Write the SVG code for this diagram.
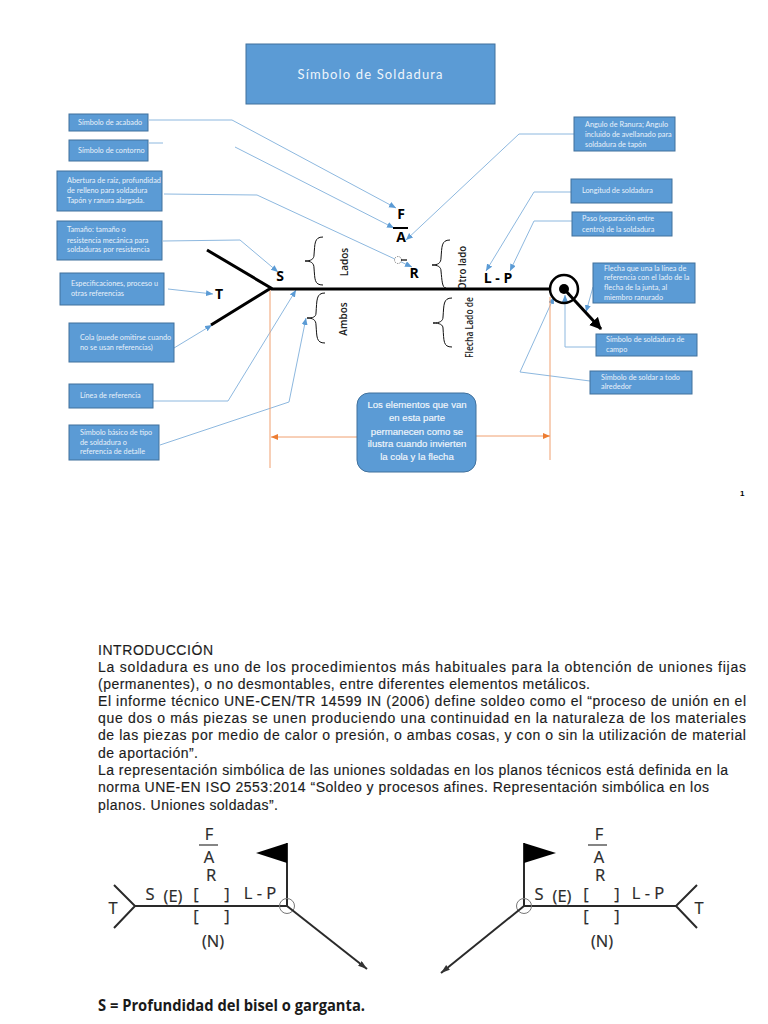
<svg xmlns="http://www.w3.org/2000/svg" width="768" height="1024" viewBox="0 0 768 1024">
<style>
text{font-family:"Liberation Sans",Arial,sans-serif}
.box{fill:#5b9bd5;stroke:#41719c;stroke-width:1}
.lb{font-family:Lato,"Open Sans",sans-serif;font-size:7.3px;fill:#e8f1fa}
.c{fill:none;stroke:#8db8df;stroke-width:1}
.o{fill:none;stroke:#f0a070;stroke-width:1}
.k{fill:none;stroke:#000;stroke-width:3}
.b{fill:none;stroke:#111;stroke-width:1}
.sym{font-family:"Open Sans","Liberation Sans",sans-serif;font-size:14px;font-weight:700;fill:#000}
.rot{font-family:"Open Sans","Liberation Sans",sans-serif;font-size:10px;font-weight:600;fill:#222}
.p{font-size:14px;fill:#1c1c1c;stroke:#1c1c1c;stroke-width:.15}
.w{font-family:"Open Sans","Liberation Sans",sans-serif;font-size:16.5px;fill:#2a2a2a;stroke:#2a2a2a;stroke-width:.2}
.ln{stroke:#2a2a2a;fill:none;stroke-width:2}
</style>
<defs>
<marker id="ab" markerWidth="8" markerHeight="7" refX="7" refY="3" orient="auto" markerUnits="userSpaceOnUse"><path d="M0 0L7 3L0 6z" fill="#5b9bd5"/></marker>
<marker id="ao" markerWidth="8" markerHeight="7" refX="7" refY="3" orient="auto" markerUnits="userSpaceOnUse"><path d="M0 0L7 3L0 6z" fill="#ed7d31"/></marker>
<marker id="ak" markerWidth="14" markerHeight="14" refX="11" refY="6" orient="auto" markerUnits="userSpaceOnUse"><path d="M0 0L12 6L0 12z" fill="#000"/></marker>
<marker id="as" markerWidth="10" markerHeight="8" refX="9" refY="3" orient="auto" markerUnits="userSpaceOnUse"><path d="M0 0L9 3L0 6z" fill="#333"/></marker>
<clipPath id="c1"><rect x="450" y="230" width="30" height="58"/></clipPath>
<clipPath id="c2"><rect x="455" y="296" width="30" height="61"/></clipPath>
</defs>
<rect width="768" height="1024" fill="#fff"/>
<g id="connectors">
<path class="c" marker-end="url(#ab)" d="M149 120H232L396 208"/>
<path class="c" d="M149 143H163"/>
<path class="c" marker-end="url(#ab)" d="M235 147L394 228"/>
<path class="c" marker-end="url(#ab)" d="M164 194L257 195L412 267"/>
<path class="c" marker-end="url(#ab)" d="M163 241L240 240L278 272"/>
<path class="c" marker-end="url(#ab)" d="M168 289L213 294"/>
<path class="c" marker-end="url(#ab)" d="M174 348L212 325"/>
<path class="c" marker-end="url(#ab)" d="M153 401H228L296 290"/>
<path class="c" marker-end="url(#ab)" d="M160 445L289 402L306 318"/>
<path class="c" marker-end="url(#ab)" d="M574 134H519L406 240"/>
<path class="c" marker-end="url(#ab)" d="M571 192H534L486 271"/>
<path class="c" marker-end="url(#ab)" d="M572 221H534L510 271"/>
<path class="c" marker-end="url(#ab)" d="M593 287L586 312"/>
<path class="c" marker-end="url(#ab)" d="M596 347H565V295"/>
<path class="c" marker-end="url(#ab)" d="M590 381L520 372L554 297"/>
<path class="o" d="M270 288V468M550 297V460"/>
<path class="o" marker-end="url(#ao)" d="M357 437H271"/>
<path class="o" marker-end="url(#ao)" d="M476 436H550"/>
</g>
<g id="title"><rect class="box" x="246" y="44" width="249" height="60"/><text x="370" y="79" text-anchor="middle" textLength="145" style="font-family:Lato,'Open Sans',sans-serif;font-size:13px;fill:#eef5fb">Símbolo de Soldadura</text></g>
<g id="n-acabado"><rect class="box" x="69" y="114" width="79" height="17"/><text class="lb" x="78" y="125">Símbolo de acabado</text></g>
<g id="n-contorno"><rect class="box" x="69" y="140" width="79" height="21"/><text class="lb" x="78" y="153">Símbolo de contorno</text></g>
<g id="n-abertura"><rect class="box" x="57" y="171" width="105" height="40"/><text class="lb" x="67" y="183">Abertura de raíz, profundidad</text><text class="lb" x="67" y="193">de relleno para soldadura</text><text class="lb" x="67" y="203">Tapón y ranura alargada.</text></g>
<g id="n-tamano"><rect class="box" x="57" y="221" width="105" height="39"/><text class="lb" x="67" y="232">Tamaño: tamaño o</text><text class="lb" x="67" y="243">resistencia mecánica para</text><text class="lb" x="67" y="252">soldaduras por resistencia</text></g>
<g id="n-espec"><rect class="box" x="60" y="273" width="104" height="32"/><text class="lb" x="71" y="286">Especificaciones, proceso u</text><text class="lb" x="71" y="296">otras referencias</text></g>
<g id="n-cola"><rect class="box" x="69" y="323" width="105" height="39"/><text class="lb" x="80" y="340">Cola (puede omitirse cuando</text><text class="lb" x="80" y="350">no se usan referencias)</text></g>
<g id="n-linea"><rect class="box" x="69" y="384" width="84" height="24"/><text class="lb" x="80" y="398">Línea de referencia</text></g>
<g id="n-basico"><rect class="box" x="69" y="425" width="90" height="35"/><text class="lb" x="80" y="435">Símbolo básico de tipo</text><text class="lb" x="80" y="445">de soldadura o</text><text class="lb" x="80" y="454">referencia de detalle</text></g>
<g id="n-angulo"><rect class="box" x="574" y="117" width="101" height="34"/><text class="lb" x="585" y="127">Angulo de Ranura; Angulo</text><text class="lb" x="585" y="137">incluido de avellanado para</text><text class="lb" x="585" y="147">soldadura de tapón</text></g>
<g id="n-longitud"><rect class="box" x="571" y="179" width="101" height="24"/><text class="lb" x="582" y="193">Longitud de soldadura</text></g>
<g id="n-paso"><rect class="box" x="572" y="212" width="100" height="24"/><text class="lb" x="582" y="221">Paso (separación entre</text><text class="lb" x="582" y="232">centro) de la soldadura</text></g>
<g id="n-flecha"><rect class="box" x="593" y="263" width="102" height="40"/><text class="lb" x="604" y="271">Flecha que una la línea de</text><text class="lb" x="604" y="280">referencia con el lado de la</text><text class="lb" x="604" y="290">flecha de la junta, al</text><text class="lb" x="604" y="300">miembro ranurado</text></g>
<g id="n-campo"><rect class="box" x="596" y="334" width="101" height="22"/><text class="lb" x="606" y="342">Símbolo de soldadura de</text><text class="lb" x="606" y="352">campo</text></g>
<g id="n-todo"><rect class="box" x="590" y="371" width="102" height="23"/><text class="lb" x="601" y="380">Símbolo de soldar a todo</text><text class="lb" x="601" y="389">alrededor</text></g>
<g id="n-centro"><rect class="box" x="357" y="393" width="119" height="79" rx="12"/>
<g text-anchor="middle" style="font-family:Lato,'Open Sans',sans-serif;font-size:9.6px;fill:#f2f7fc;stroke:#f2f7fc;stroke-width:.15"><text x="417" y="408">Los elementos que van</text><text x="417" y="421">en esta parte</text><text x="417" y="435">permanecen como se</text><text x="417" y="447">ilustra cuando invierten</text><text x="417" y="460">la cola y la flecha</text></g></g>
<g id="symbol">
<path class="k" d="M207 250L271 288L211 325M271 289H550"/>
<circle cx="564" cy="289" r="14" fill="none" stroke="#000" stroke-width="2.5"/><circle cx="564" cy="289" r="5" fill="#000"/>
<path d="M564 289L601 329" stroke="#000" stroke-width="3" fill="none" marker-end="url(#ak)"/>
<path stroke="#000" stroke-width="2" d="M393 228H408"/>
<circle cx="398" cy="260" r="3.5" fill="#fff" stroke="#555" stroke-width=".7" stroke-dasharray="1.5 1"/><path stroke="#000" stroke-width="1.2" d="M401 260H407"/>
<path class="b" d="M323 237C314 237 315 244 314 255C314 259 311 261 305 261C311 261 314 263 314 268C315 279 314 285 323 285"/>
<path class="b" d="M325 293C316 293 317 300 316 313C316 317 313 318 307 318C313 318 316 320 316 325C317 337 316 343 325 343"/>
<path class="b" d="M450 240C441 240 442 247 441 258C441 263 438 265 432 265C438 265 441 267 441 271C442 280 442 288 446 288"/>
<path class="b" d="M452 298C443 298 444 305 443 317C443 321 440 323 433 323C440 323 443 325 443 328C444 341 443 347 452 347"/>
<text class="sym" x="401" y="219" text-anchor="middle">F</text><text class="sym" x="401" y="242" text-anchor="middle">A</text><text class="sym" x="280" y="281" text-anchor="middle">S</text><text class="sym" x="219" y="299" text-anchor="middle">T</text><text class="sym" x="414" y="278" text-anchor="middle">R</text><text class="sym" x="498" y="283" text-anchor="middle">L - P</text>
<text class="rot" transform="translate(348 262) rotate(-90)" text-anchor="middle">Lados</text>
<text class="rot" transform="translate(347 319) rotate(-90)" text-anchor="middle">Ambos</text>
<g clip-path="url(#c1)"><text class="rot" transform="translate(466 290) rotate(-90)" textLength="44" lengthAdjust="spacingAndGlyphs">Otro lado</text></g>
<g clip-path="url(#c2)"><text class="rot" transform="translate(473 358) rotate(-90)" textLength="61" lengthAdjust="spacingAndGlyphs">Flecha Lado de</text></g>
</g>
<text x="740" y="496" style="font-size:8px;font-weight:700">1</text>
<g id="intro">
<text class="p" x="98" y="655" textLength="115" lengthAdjust="spacing">INTRODUCCIÓN</text>
<text class="p" x="98" y="672" textLength="648" lengthAdjust="spacing">La soldadura es uno de los procedimientos más habituales para la obtención de uniones fijas</text>
<text class="p" x="98" y="689" textLength="492" lengthAdjust="spacing">(permanentes), o no desmontables, entre diferentes elementos metálicos.</text>
<text class="p" x="98" y="706" textLength="648" lengthAdjust="spacing">El informe técnico UNE-CEN/TR 14599 IN (2006) define soldeo como el “proceso de unión en el</text>
<text class="p" x="98" y="723" textLength="648" lengthAdjust="spacing">que dos o más piezas se unen produciendo una continuidad en la naturaleza de los materiales</text>
<text class="p" x="98" y="740" textLength="648" lengthAdjust="spacing">de las piezas por medio de calor o presión, o ambas cosas, y con o sin la utilización de material</text>
<text class="p" x="98" y="758" textLength="100" lengthAdjust="spacing">de aportación”.</text>
<text class="p" x="98" y="775" textLength="630" lengthAdjust="spacing">La representación simbólica de las uniones soldadas en los planos técnicos está definida en la</text>
<text class="p" x="98" y="792" textLength="611" lengthAdjust="spacing">norma UNE-EN ISO 2553:2014 “Soldeo y procesos afines. Representación simbólica en los</text>
<text class="p" x="98" y="810" textLength="180" lengthAdjust="spacing">planos. Uniones soldadas”.</text>
</g>
<g id="weld-left">
<path class="ln" d="M114 885L135 906L114 928M135 906H287V843"/>
<path d="M287 843L256 853L287 863z" fill="#000"/>
<circle cx="287" cy="906" r="7.5" fill="none" stroke="#777" stroke-width="1"/>
<path class="ln" marker-end="url(#as)" d="M287 906L367 969"/>
<path stroke="#333" stroke-width="1.2" d="M199 845H218"/>
<text class="w" x="209" y="840" text-anchor="middle">F</text><text class="w" x="209" y="863" text-anchor="middle">A</text><text class="w" x="211" y="881" text-anchor="middle">R</text><text class="w" x="150" y="900" text-anchor="middle">S</text><text class="w" x="173" y="902" text-anchor="middle">(E)</text><text class="w" x="196" y="900" text-anchor="middle">[</text><text class="w" x="227" y="900" text-anchor="middle">]</text><text class="w" x="260" y="899" text-anchor="middle">L - P</text><text class="w" x="196" y="922" text-anchor="middle">[</text><text class="w" x="227" y="922" text-anchor="middle">]</text><text class="w" x="213" y="947" text-anchor="middle">(N)</text><text class="w" x="113" y="914" text-anchor="middle">T</text>
</g>
<g id="weld-right">
<path class="ln" d="M697 885L676 906L697 928M676 906H524V843"/>
<path d="M524 843L556 853L524 863z" fill="#000"/>
<circle cx="524" cy="906" r="7.5" fill="none" stroke="#777" stroke-width="1"/>
<path class="ln" marker-end="url(#as)" d="M524 906L441 973"/>
<path stroke="#333" stroke-width="1.2" d="M588 845H607"/>
<text class="w" x="599" y="840" text-anchor="middle">F</text><text class="w" x="599" y="863" text-anchor="middle">A</text><text class="w" x="600" y="881" text-anchor="middle">R</text><text class="w" x="539" y="900" text-anchor="middle">S</text><text class="w" x="562" y="902" text-anchor="middle">(E)</text><text class="w" x="586" y="900" text-anchor="middle">[</text><text class="w" x="617" y="900" text-anchor="middle">]</text><text class="w" x="648" y="899" text-anchor="middle">L - P</text><text class="w" x="586" y="922" text-anchor="middle">[</text><text class="w" x="617" y="922" text-anchor="middle">]</text><text class="w" x="602" y="947" text-anchor="middle">(N)</text><text class="w" x="699" y="914" text-anchor="middle">T</text>
</g>
<text x="98" y="1011" textLength="267" lengthAdjust="spacingAndGlyphs" style="font-family:'Open Sans','Liberation Sans',sans-serif;font-size:16px;font-weight:700;fill:#1a1a1a">S = Profundidad del bisel o garganta.</text>
</svg>
